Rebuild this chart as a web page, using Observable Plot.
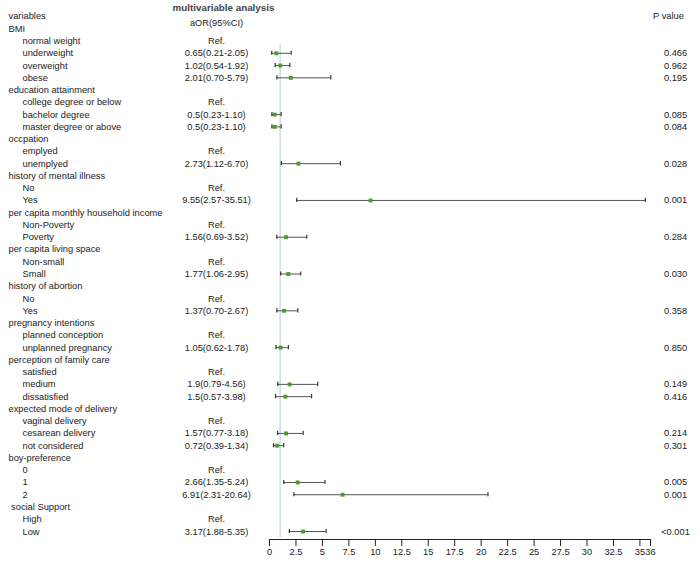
<!DOCTYPE html>
<html><head><meta charset="utf-8">
<script src="https://cdn.jsdelivr.net/npm/d3@7"></script>
<script src="https://cdn.jsdelivr.net/npm/@observablehq/plot@0.6"></script>
<style>body{margin:0;background:#fff} svg text{white-space:pre}</style>
</head><body><div id="chart"></div>
<script>
const groups = ["BMI","education attainment","occpation","history of mental illness","per capita monthly household income","per capita living space","history of abortion","pregnancy intentions","perception of family care","expected mode of delivery","boy-preference"," social Support"];
const levels = [
  ["normal weight","underweight","overweight","obese"],
  ["college degree or below","bachelor degree","master degree or above"],
  ["emplyed","unemplyed"],
  ["No","Yes"],
  ["Non-Poverty","Poverty"],
  ["Non-small","Small"],
  ["No","Yes"],
  ["planned conception","unplanned pregnancy"],
  ["satisfied","medium","dissatisfied"],
  ["vaginal delivery","cesarean delivery","not considered"],
  ["0","1","2"],
  ["High","Low"]
];
const aorText = [
  ["Ref.","0.65(0.21-2.05)","1.02(0.54-1.92)","2.01(0.70-5.79)"],
  ["Ref.","0.5(0.23-1.10)","0.5(0.23-1.10)"],
  ["Ref.","2.73(1.12-6.70)"],
  ["Ref.","9.55(2.57-35.51)"],
  ["Ref.","1.56(0.69-3.52)"],
  ["Ref.","1.77(1.06-2.95)"],
  ["Ref.","1.37(0.70-2.67)"],
  ["Ref.","1.05(0.62-1.78)"],
  ["Ref.","1.9(0.79-4.56)","1.5(0.57-3.98)"],
  ["Ref.","1.57(0.77-3.18)","0.72(0.39-1.34)"],
  ["Ref.","2.66(1.35-5.24)","6.91(2.31-20.64)"],
  ["Ref.","3.17(1.88-5.35)"]
];
const aorValue = [
  [null,0.65,1.02,2.01],[null,0.5,0.5],[null,2.73],[null,9.55],[null,1.56],[null,1.77],
  [null,1.37],[null,1.05],[null,1.9,1.5],[null,1.57,0.72],[null,2.66,6.91],[null,3.17]
];
const ciLow = [
  [null,0.21,0.54,0.70],[null,0.23,0.23],[null,1.12],[null,2.57],[null,0.69],[null,1.06],
  [null,0.70],[null,0.62],[null,0.79,0.57],[null,0.77,0.39],[null,1.35,2.31],[null,1.88]
];
const ciHigh = [
  [null,2.05,1.92,5.79],[null,1.10,1.10],[null,6.70],[null,35.51],[null,3.52],[null,2.95],
  [null,2.67],[null,1.78],[null,4.56,3.98],[null,3.18,1.34],[null,5.24,20.64],[null,5.35]
];
const pValue = [
  ["","0.466","0.962","0.195"],["","0.085","0.084"],["","0.028"],["","0.001"],["","0.284"],["","0.030"],
  ["","0.358"],["","0.850"],["","0.149","0.416"],["","0.214","0.301"],["","0.005","0.001"],["","<0.001"]
];
const xTicks = [0,2.5,5,7.5,10,12.5,15,17.5,20,22.5,25,27.5,30,32.5,35,36];
const refLine = 1;

const rows = [{label:"variables", header:true}];
groups.forEach((g,i)=>{
  rows.push({label:g, header:true});
  levels[i].forEach((l,j)=>rows.push({label:l, header:false, text:aorText[i][j], or:aorValue[i][j], lo:ciLow[i][j], hi:ciHigh[i][j], p:pValue[i][j]}));
});
rows.forEach((r,i)=>r.row=i);
const est = rows.filter(r=>r.or!=null);
const lvl = rows.filter(r=>!r.header);
const hdr = rows.filter(r=>r.header);
const nRows = rows.length - 1;

const font = "'Liberation Sans', Arial, Helvetica, sans-serif";
const plot = Plot.plot({
  width:700, height:562, marginLeft:269, marginRight:50, marginTop:16, marginBottom:23,
  style:{fontFamily:font, fontSize:"9.3px", color:"#222", background:"#fff"},
  x:{domain:[0,36], ticks:xTicks, tickFormat:d=>String(d), tickSize:7, tickPadding:2, line:true, label:null},
  y:{domain:[0,nRows+0.65], reverse:true, axis:null},
  marks:[
    Plot.ruleX([refLine], {y1:2.3, y2:nRows+0.5, stroke:"#b3cadd", strokeWidth:1}),
    Plot.ruleY(est, {y:"row", x1:"lo", x2:"hi", stroke:"#555", strokeWidth:1}),
    Plot.ruleX(est, {x:"lo", y1:d=>d.row-0.17, y2:d=>d.row+0.17, stroke:"#333", strokeWidth:1.2}),
    Plot.ruleX(est, {x:"hi", y1:d=>d.row-0.17, y2:d=>d.row+0.17, stroke:"#333", strokeWidth:1.2}),
    Plot.dot(est, {x:"or", y:"row", symbol:"square", r:2.2, fill:"#4f9a2c", stroke:"none"}),
    Plot.text(hdr, {y:"row", text:"label", frameAnchor:"left", dx:-261, textAnchor:"start", fill:"#222"}),
    Plot.text(lvl, {y:"row", text:"label", frameAnchor:"left", dx:-247, textAnchor:"start", fill:"#222"}),
    Plot.text(lvl, {y:"row", text:"text", frameAnchor:"left", dx:-53, textAnchor:"middle", fill:"#222"}),
    Plot.text(lvl, {y:"row", text:"p", frameAnchor:"right", dx:25, textAnchor:"middle", fill:"#222"}),
    Plot.text(["multivariable analysis"], {frameAnchor:"top-left", dx:-46, dy:-9, lineAnchor:"middle", textAnchor:"middle", fontWeight:"bold", fontSize:9.8, fill:"#444"}),
    Plot.text(["aOR(95%CI)"], {frameAnchor:"top-left", dx:-53, dy:7, lineAnchor:"middle", textAnchor:"middle", fill:"#222"}),
    Plot.text(["P value"], {frameAnchor:"top-right", dx:18, dy:0, lineAnchor:"middle", textAnchor:"middle", fill:"#222"})
  ]
});
document.getElementById("chart").appendChild(plot);
</script>
</body></html>
